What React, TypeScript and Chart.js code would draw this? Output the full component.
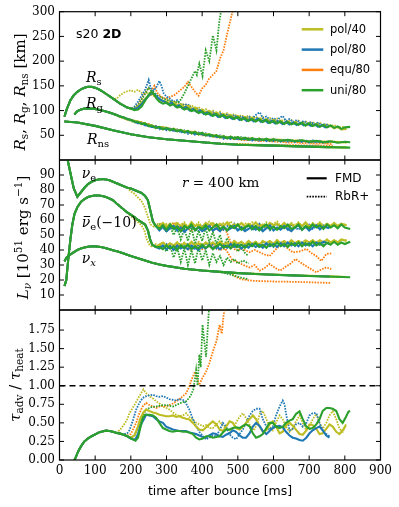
import React, { useEffect, useRef } from 'react';
import { Chart, registerables } from 'chart.js';
Chart.register(...registerables);

// ---------------- colours / legend ----------------
const OLIVE = '#bcbd22';
const BLUE = '#1f77b4';
const ORANGE = '#ff7f0e';
const GREEN = '#2ca02c';
const LEGEND_LABELS = ['pol/40', 'pol/80', 'equ/80', 'uni/80'];
const LEGEND_COLORS = [OLIVE, BLUE, ORANGE, GREEN];
const STYLE_LABELS = ['FMD', 'RbR+'];

// ---------------- axes ----------------
const X_TICKS = [0, 100, 200, 300, 400, 500, 600, 700, 800, 900];
const TOP_TICKS = [50, 100, 150, 200, 250, 300];
const MID_TICKS = [10, 20, 30, 40, 50, 60, 70, 80, 90];
const BOT_TICKS = [0, 0.25, 0.5, 0.75, 1.0, 1.25, 1.5, 1.75];
const DASH_LEVEL = 1.0;

// ---------------- top panel: R_s ----------------
const RS_EARLY = [14,88, 20,102, 30,120, 40,131, 50,138, 60,143, 70,146, 80,148, 90,148, 100,146, 110,143, 120,139, 130,134, 140,129, 150,124];
const RS_MID = [160,119, 170,114, 180,110, 190,106, 200,104];
const RS_UNI_FMD = [210,101, 220,102, 230,108, 240,120, 250,132, 258,138, 265,133, 272,124, 280,118, 290,114, 300,116, 310,110, 320,113, 330,106, 340,108, 350,102, 360,105, 370,99, 380,101, 390,95, 400,98, 410,92, 420,95, 430,89, 440,93, 450,87, 460,91, 470,85, 480,88, 490,83, 500,87, 510,81, 520,85, 530,79, 540,83, 550,78, 560,82, 570,77, 580,81, 590,75, 600,79, 610,74, 620,78, 630,73, 640,77, 650,72, 660,75, 670,71, 680,75, 690,70, 700,74, 710,69, 720,72, 730,67, 740,71, 750,66, 760,70, 770,65, 780,68, 790,63, 800,66, 815,67];
const RS_POL80_FMD = [210,103, 220,106, 230,113, 240,122, 250,130, 260,136, 268,132, 276,126, 285,121, 295,118, 305,113, 315,116, 325,108, 335,111, 345,104, 355,107, 365,100, 375,103, 385,97, 395,100, 405,93, 415,96, 425,90, 435,93, 445,87, 455,91, 465,85, 475,88, 485,83, 495,87, 505,81, 515,85, 525,79, 535,83, 545,78, 555,84, 565,77, 575,81, 585,75, 595,79, 605,74, 615,78, 625,73, 635,77, 645,72, 655,76, 665,71, 675,75, 685,70, 695,73, 705,69, 715,72, 725,67, 735,71, 745,66, 757,69];
const RS_POL40_FMD = [210,104, 220,108, 230,116, 240,124, 250,130, 260,134, 270,128, 280,122, 290,120, 300,118, 310,113, 320,117, 330,110, 340,113, 350,107, 360,110, 370,103, 380,106, 390,99, 400,102, 410,96, 420,99, 430,93, 440,96, 450,90, 460,93, 470,88, 480,91, 490,85, 500,89, 510,83, 520,87, 530,82, 540,86, 550,80, 560,84, 570,79, 580,82, 590,77, 600,81, 610,76, 620,79, 630,74, 640,78, 650,73, 660,77, 670,72, 680,75, 690,70, 700,74, 710,69, 720,73, 730,68, 740,71, 750,66, 760,70, 770,64, 780,67, 790,62, 805,63];
const RS_POL80_RBR = [210,108, 220,118, 230,130, 240,142, 250,162, 256,145, 264,140, 272,148, 280,160, 286,150, 292,135, 300,128, 310,124, 320,118, 330,121, 340,113, 350,111, 360,113, 370,104, 380,102, 390,104, 400,96, 410,99, 420,93, 430,97, 440,91, 450,95, 460,88, 470,92, 480,86, 490,91, 500,85, 510,89, 520,83, 530,88, 540,84, 555,94, 562,96, 570,85, 580,88, 590,81, 600,85, 610,80, 618,86, 626,89, 635,79, 645,83, 655,77, 665,81, 675,75, 685,79, 695,74, 705,77, 715,72, 725,76, 735,70, 745,73, 757,69];
const RS_POL40_RBR = [160,124, 170,131, 180,136, 190,139, 200,141, 210,138, 220,142, 230,136, 240,134, 250,137, 260,131, 270,127, 280,124, 290,120, 300,118, 310,121, 320,115, 330,118, 340,111, 350,114, 360,108, 370,111, 380,104, 390,107, 400,100, 410,103, 420,97, 430,100, 440,94, 450,98, 460,91, 470,95, 480,89, 490,93, 500,87, 510,91, 520,86, 530,90, 540,84, 550,88, 560,82, 570,87, 580,81, 590,85, 600,80, 610,84, 620,79, 630,82, 640,77, 650,81, 660,76, 670,80, 680,75, 690,78, 700,74, 710,77, 720,72, 730,76, 740,70, 750,73, 760,68, 770,71, 780,66, 795,67, 805,63];
const RS_EQU_RBR = [210,106, 220,112, 230,124, 240,136, 250,146, 258,140, 266,150, 274,136, 282,130, 290,126, 300,124, 310,128, 320,130, 330,136, 340,142, 350,148, 360,158, 370,148, 380,138, 390,130, 400,145, 410,152, 420,165, 430,172, 440,180, 450,205, 460,222, 470,255, 480,285, 490,315];
const RS_UNI_RBR = [210,105, 220,110, 230,122, 240,134, 250,146, 258,140, 266,136, 274,131, 282,128, 290,125, 300,122, 310,119, 320,117, 330,116, 340,122, 350,135, 360,150, 370,165, 380,180, 385,172, 392,195, 401,170, 410,222, 420,200, 430,252, 440,222, 448,280, 455,310];

// ---------------- top panel: R_g ----------------
const RG_EARLY = [42,92, 50,99, 60,102, 70,104, 80,104, 90,104, 100,103, 120,100, 140,96, 160,91];
const RG_MID = [170,88, 180,86, 190,83, 200,81];
const RG_UNI_FMD = [210,78, 220,77, 230,73, 240,74, 250,69, 260,69, 270,65, 280,67, 290,62, 300,65, 310,60, 320,63, 330,58, 340,61, 350,56, 360,59, 370,54, 380,57, 390,52, 400,55, 410,50, 420,52, 430,48, 440,50, 450,46, 460,48, 470,44, 480,47, 490,43, 500,46, 510,42, 520,45, 530,41, 540,44, 550,41, 560,43, 570,40, 580,43, 590,39, 600,42, 620,39, 640,41, 660,38, 680,40, 700,37, 720,39, 740,36, 760,38, 780,35, 800,37, 815,36];
const RG_POL80_FMD = [215,76, 230,74, 245,70, 260,67, 275,66, 290,63, 305,63, 320,60, 335,59, 350,56, 365,56, 380,53, 395,53, 410,50, 425,50, 440,47, 455,46, 470,44, 485,45, 500,43, 520,43, 540,41, 560,42, 580,40, 600,41, 620,39, 640,40, 660,38, 680,39, 700,37, 720,38, 740,36, 757,37];
const RG_POL40_FMD = [220,78, 240,73, 250,71, 260,69, 270,67, 280,66, 290,66, 300,65, 310,63, 320,62, 330,61, 340,60, 350,58, 360,57, 370,57, 380,56, 390,54, 400,53, 420,51, 440,49, 460,46, 480,45, 500,45, 520,44, 540,43, 560,42, 580,42, 600,41, 620,41, 640,40, 660,39, 680,39, 700,38, 720,38, 740,37, 760,37, 780,36, 805,36];
const RG_POL80_RBR = [210,79, 220,74, 230,77, 240,70, 250,73, 260,65, 270,69, 280,62, 290,67, 300,60, 310,65, 320,58, 330,62, 340,55, 350,60, 360,53, 370,58, 380,51, 390,56, 400,50, 410,54, 420,47, 430,51, 440,46, 450,50, 460,43, 470,48, 480,42, 490,47, 500,41, 510,46, 520,40, 530,45, 540,39, 550,44, 560,39, 570,43, 580,38, 590,43, 600,38, 610,42, 620,37, 630,42, 640,37, 650,41, 660,36, 670,41, 680,36, 690,40, 700,35, 710,40, 720,35, 730,39, 740,35, 757,38];
const RG_POL40_RBR = [170,86, 180,84, 190,81, 200,79, 210,76, 220,78, 230,72, 240,75, 250,68, 260,71, 270,64, 280,68, 290,62, 300,66, 310,60, 320,64, 330,57, 340,61, 350,55, 360,59, 370,53, 380,58, 390,51, 400,55, 410,49, 420,53, 430,46, 440,51, 450,45, 460,49, 470,43, 480,48, 490,42, 500,47, 510,41, 520,46, 530,40, 540,45, 550,39, 560,44, 570,39, 580,43, 590,38, 600,43, 610,37, 620,42, 630,37, 640,41, 650,36, 660,41, 670,36, 680,40, 690,35, 700,40, 710,35, 720,39, 730,35, 740,39, 750,34, 760,38, 780,37, 805,35];
const RG_EQU_RBR = [210,79, 220,76, 230,77, 240,72, 250,73, 260,68, 270,69, 280,65, 290,66, 300,62, 310,64, 320,60, 330,61, 340,57, 350,59, 360,55, 370,56, 380,53, 390,54, 400,50, 420,50, 440,46, 460,45, 480,43, 500,42, 520,40, 540,41, 560,38, 580,39, 600,37, 620,37, 640,35, 660,36, 680,34, 700,35, 720,33, 740,34, 766,32];
const RG_UNI_RBR = [210,78, 220,77, 230,73, 240,74, 250,69, 260,70, 270,66, 280,67, 290,63, 300,64, 310,61, 320,62, 330,58, 340,60, 350,56, 360,58, 370,54, 380,56, 390,52, 400,54, 410,50, 420,52, 430,49, 440,50, 450,47, 460,48, 480,45, 500,46, 530,44];

// ---------------- top panel: R_ns ----------------
const RNS_EARLY = [14,78, 50,76, 100,69, 150,60, 200,52, 250,46, 300,42, 350,39, 400,36];
const RNS_UNI_FMD = [450,33, 500,31, 550,30, 600,29, 650,28, 700,27, 750,26, 815,25];
const RNS_POL80_FMD = [450,33, 500,31, 550,30, 600,29, 650,28, 700,27, 757,26];
const RNS_POL40_FMD = [450,33, 500,31.5, 550,30, 600,29, 650,28, 700,27, 750,26, 805,25.5];
const RNS_POL80_RBR = [450,33.5, 500,31.5, 550,30, 600,29, 650,28, 700,27, 757,26];
const RNS_POL40_RBR = [450,33.5, 500,31.5, 550,30.5, 600,29, 650,28, 700,27, 750,26.5, 805,25.5];
const RNS_EQU_RBR = [450,33.5, 500,32, 550,31, 600,30.5, 650,30, 700,29.5, 766,29];
const RNS_UNI_RBR = [450,33, 500,31.5, 530,31];

// ---------------- middle panel: nu_e ----------------
const NUE_EARLY = [22,101, 30,92, 40,81, 50,75.5, 60,78.5, 70,81.5, 80,84, 90,85.5, 100,86.5, 110,87, 120,87.3, 130,87, 140,86.5, 150,85.5, 160,84.5, 170,83.5, 180,82.5, 190,81.5];
const NUE_MID = [200,81, 210,80, 220,79, 230,78, 240,76, 248,73, 255,66, 262,59, 270,56];
const NUE_UNI_FMD = [280,54, 290,56.5, 300,53.5, 310,57, 320,54, 330,55.5, 340,52.5, 350,56, 360,54.5, 370,57, 380,53, 390,55.5, 400,54, 410,56.5, 420,53, 430,55, 440,57, 450,54, 460,55.5, 470,53, 480,56, 490,54.5, 500,57, 510,53.5, 520,55, 530,56.5, 540,54, 550,56, 560,53, 570,55.5, 580,57, 590,54, 600,55.5, 610,53.5, 620,56, 630,54.5, 640,57, 650,54, 660,55, 670,57, 680,53.5, 690,56, 700,54.5, 710,57, 720,55, 730,56.5, 740,54, 750,57, 760,55, 770,56.5, 780,54.5, 790,57, 800,55, 815,54];
const NUE_POL80_FMD = [280,53, 290,55.5, 300,52.5, 310,54.5, 320,56, 330,53, 340,55, 350,52, 360,54.5, 370,56, 380,53.5, 390,55, 400,52.5, 410,54, 420,56, 430,53, 440,54.5, 450,52.5, 460,55.5, 470,53, 480,54.5, 490,56, 500,53, 510,55, 520,52.5, 530,54, 540,56, 550,53.5, 560,55, 570,52.5, 580,54.5, 590,56.5, 600,53, 610,55, 620,53.5, 630,56, 640,54, 650,52.5, 660,55, 670,56.5, 680,53.5, 690,55.5, 700,53, 710,55, 720,56.5, 730,54, 740,55.5, 757,54.5];
const NUE_POL40_FMD = [280,56, 290,58, 300,55.5, 310,57.5, 320,55, 330,58, 340,56, 350,57.5, 360,55, 370,58.5, 380,56, 390,57, 400,55, 410,58, 420,56.5, 430,58, 440,55.5, 450,57.5, 460,56, 470,58.5, 480,55.5, 490,57, 500,56, 510,58, 520,55.5, 530,57.5, 540,56, 550,58.5, 560,55.5, 570,57, 580,55, 590,58, 600,56.5, 610,57.5, 620,55.5, 630,58, 640,56, 650,57.5, 660,55, 670,58, 680,56, 690,58.5, 700,55.5, 710,57.5, 720,56, 730,58, 740,55.5, 750,57.5, 760,56, 770,58, 780,55.5, 790,57.5, 805,56.5];
const NUE_POL80_RBR = [280,55, 290,57.5, 300,53, 310,56, 320,54, 330,57, 340,52.5, 350,55.5, 360,53.5, 370,57.5, 380,54, 390,52.5, 400,56, 410,54.5, 420,57, 430,53, 440,55, 450,57.5, 460,53.5, 470,56, 480,54, 490,57.5, 500,53, 510,55.5, 520,54, 530,57, 540,53, 550,55, 560,57.5, 570,54, 580,56, 590,53, 600,55.5, 610,57.5, 620,54, 630,56, 640,53.5, 650,57, 660,55, 670,53.5, 680,56.5, 690,54.5, 700,57, 710,54, 720,56, 730,53.5, 740,56.5, 757,55];
const NUE_POL40_RBR = [200,79, 210,77.5, 220,75, 230,72.5, 240,68, 248,62, 255,57, 265,55.5, 270,56.5, 280,58, 290,55.5, 300,57.5, 310,56, 320,58.5, 330,55, 340,57, 350,58.5, 360,55.5, 370,57.5, 380,56, 390,58.5, 400,55.5, 410,57, 420,59, 430,56, 440,57.5, 450,55.5, 460,58, 470,56.5, 480,59, 490,56, 500,57.5, 510,55.5, 520,58, 530,56.5, 540,58.5, 550,55.5, 560,57.5, 570,56, 580,58.5, 590,56, 600,57.5, 610,59, 620,56, 630,57.5, 640,55.5, 650,58, 660,56.5, 670,58.5, 680,56, 690,57.5, 700,55.5, 710,58, 720,56.5, 730,58.5, 740,56, 750,57.5, 760,55.5, 770,58, 780,56.5, 790,57.5, 805,56.5];
const NUE_EQU_RBR = [280,56, 290,57, 300,54.5, 310,55, 320,57.5, 330,58, 340,55, 350,56, 360,54, 370,53, 380,56, 390,55.5, 400,53, 410,54, 420,57, 430,56, 440,54, 450,53, 465,54, 475,48, 485,42, 495,39.5, 510,41, 533,38.5, 547,40, 561,38.5, 575,37, 589,36, 605,40, 626,45, 640,41, 654,38.4, 672,39, 692,40.7, 706,38, 720,36, 734,32.7, 748,37.3, 762,37.8];
const NUE_UNI_RBR = [280,57, 290,55, 300,52, 310,56, 320,50, 330,55, 340,47, 350,54, 360,46, 370,55, 380,44, 390,53, 400,46, 410,55, 420,45, 430,52, 440,44, 450,50, 460,42, 470,48, 480,41, 490,45, 500,39, 510,42, 520,38, 530,36];

// ---------------- middle panel: anti-nu_e (-10) ----------------
const NUEB_EARLY = [14,16, 19,20, 25,35, 31,48, 36,57, 42,64, 50,68.5, 60,72, 70,74, 80,75.3, 90,76, 100,76.3, 110,76.3, 120,76, 130,75.3, 140,74.3, 150,73.2, 160,71, 170,69, 180,67, 190,65];
const NUEB_MID = [200,63.5, 210,62, 220,60, 230,58.5, 240,57, 248,53, 254,47, 260,43.5, 270,42];
const NUEB_UNI_FMD = [280,42, 290,40.5, 300,43, 310,41, 320,42.5, 330,40, 340,43, 350,41.5, 360,43.5, 370,40.5, 380,42.5, 390,41, 400,43.5, 410,41.5, 420,43, 430,40.5, 440,42.5, 450,44, 460,41.5, 470,43, 480,41, 490,44, 500,42, 510,43.5, 520,41.5, 530,44, 540,42.5, 550,44.5, 560,42, 570,43.5, 580,41.5, 590,44, 600,42.5, 610,45, 620,42.5, 630,44, 640,42, 650,44.5, 660,43, 670,45, 680,42.5, 690,44.5, 700,43, 710,45.5, 720,43, 730,44.5, 740,42.5, 750,45, 760,43.5, 770,45.5, 780,43.5, 790,45, 800,44, 815,45.5];
const NUEB_POL80_FMD = [280,41, 290,43, 300,40.5, 310,42.5, 320,40, 330,43, 340,41, 350,42.5, 360,40.5, 370,43, 380,41.5, 390,40, 400,42.5, 410,41, 420,43.5, 430,41, 440,42.5, 450,40.5, 460,43, 470,41.5, 480,44, 490,42, 500,43.5, 510,41, 520,43, 530,41.5, 540,44, 550,42, 560,43.5, 570,41.5, 580,44.5, 590,42.5, 600,44, 610,42, 620,44.5, 630,42.5, 640,45, 650,43, 660,44.5, 670,42.5, 680,45, 690,43, 700,44.5, 710,42.5, 720,45, 730,43.5, 740,45.5, 757,44];
const NUEB_POL40_FMD = [280,43.5, 290,45, 300,42.5, 310,44.5, 320,43, 330,45, 340,42.5, 350,44.5, 360,43, 370,45.5, 380,43, 390,44.5, 400,42.5, 410,45, 420,43.5, 430,45, 440,43, 450,45.5, 460,43.5, 470,45, 480,43, 490,46, 500,44, 510,45.5, 520,43.5, 530,46, 540,44, 550,45.5, 560,43.5, 570,46, 580,44.5, 590,46, 600,44, 610,46.5, 620,44.5, 630,46, 640,44, 650,46.5, 660,44.5, 670,46, 680,44, 690,46.5, 700,45, 710,46.5, 720,44.5, 730,46.5, 740,45, 750,47, 760,45, 770,46.5, 780,45, 790,47, 805,46];
const NUEB_POL80_RBR = [280,43.5, 290,41, 300,44, 310,41.5, 320,43, 330,40.5, 340,43.5, 350,41, 360,44, 370,42, 380,40.5, 390,43.5, 400,41.5, 410,44, 420,42, 430,43.5, 440,41, 450,44.5, 460,42, 470,43.5, 480,41.5, 490,44.5, 500,42.5, 510,44, 520,41.5, 530,45, 540,42.5, 550,44.5, 560,42, 570,45, 580,43, 590,44.5, 600,42, 610,45, 620,43, 630,45.5, 640,43, 650,45, 660,42.5, 670,45.5, 680,43.5, 690,45, 700,43, 710,46, 720,43.5, 730,45.5, 740,43.5, 757,45];
const NUEB_POL40_RBR = [200,62.5, 210,60.5, 220,58.5, 230,56.5, 238,53, 245,47, 252,43.5, 260,42, 270,44, 280,42.5, 290,45, 300,43, 310,44.5, 320,42.5, 330,45, 340,43.5, 350,45, 360,42.5, 370,44.5, 380,43, 390,45.5, 400,43.5, 410,45, 420,42.5, 430,45, 440,43.5, 450,45.5, 460,43, 470,45, 480,43.5, 490,46, 500,44, 510,45.5, 520,43.5, 530,46, 540,44, 550,45.5, 560,43.5, 570,46, 580,44.5, 590,46, 600,44, 610,46.5, 620,44.5, 630,46, 640,44, 650,46.5, 660,44.5, 670,46, 680,45, 690,46.5, 700,44.5, 710,46.5, 720,45, 730,46.5, 740,45, 750,47, 760,45, 770,46.5, 780,45, 790,47, 805,46.5];
const NUEB_EQU_RBR = [280,43, 290,41.5, 300,43.5, 310,41, 320,42.5, 330,44, 340,41.5, 350,42, 360,40.5, 370,40, 380,42.5, 390,43, 400,40.5, 410,41, 420,43.5, 430,43, 440,41, 450,40, 465,41, 475,37, 485,33, 500,32, 515,30, 533,28.4, 547,30, 561,26.2, 575,28, 589,30.7, 605,28, 619,26.2, 635,29, 648,31, 662,34, 680,31, 700,28, 720,25.1, 734,27, 748,28.4, 762,27.3];
const NUEB_UNI_RBR = [280,43, 290,42, 300,39, 310,43, 320,35, 330,42, 340,32, 350,41, 360,30, 370,40, 380,31, 390,42, 400,33, 410,40, 420,30, 430,38, 440,32, 450,36, 460,30, 470,35, 480,32, 490,34, 500,31, 515,33, 530,31];

// ---------------- middle panel: nu_x ----------------
const NUX_EARLY = [14,32.5, 20,35, 30,37, 40,38.5, 50,40, 60,41, 70,41.7, 80,42.2, 90,42.4, 100,42.4, 110,42.2, 120,41.8, 130,41.2, 140,40.5, 150,39.8, 160,39.2, 170,38.5, 180,37.7, 190,36.8, 200,36, 220,34.5, 240,33, 260,31.5, 280,30.3, 300,29.4, 350,27.5, 400,26.3, 450,25.4];
const NUX_UNI_FMD = [500,24.6, 550,24, 600,23.5, 650,23.1, 700,22.7, 750,22.3, 815,21.8];
const NUX_POL80_FMD = [500,24.6, 550,24, 600,23.5, 650,23.1, 700,22.7, 757,22.3];
const NUX_POL40_FMD = [500,24.7, 550,24.1, 600,23.6, 650,23.2, 700,22.8, 750,22.4, 805,22];
const NUX_POL80_RBR = [500,24.6, 550,24, 600,23.5, 650,23.1, 700,22.7, 757,22.3];
const NUX_POL40_RBR = [500,24.7, 550,24.1, 600,23.6, 650,23.2, 700,22.8, 750,22.4, 805,22];
const NUX_EQU_RBR = [480,24.8, 495,22, 510,20.5, 540,19.5, 600,19, 650,18.8, 700,18.5, 762,18];
const NUX_UNI_RBR = [480,23.5, 510,21.5, 530,20.5];

// ---------------- bottom panel: tau_adv / tau_heat ----------------
const TAU_EARLY = [42,0, 46,0.04, 50,0.09, 55,0.14, 60,0.18, 65,0.22, 70,0.25, 80,0.29, 90,0.32, 100,0.345, 110,0.37, 120,0.385, 130,0.395, 140,0.39, 150,0.38, 160,0.365];
const TAU_UNI_FMD = [170,0.355, 180,0.34, 190,0.32, 200,0.29, 205,0.277, 213,0.26, 220,0.3, 226,0.42, 233,0.56, 240,0.61, 252,0.61, 262,0.6, 271,0.57, 280,0.5, 290,0.43, 299,0.41, 308,0.39, 318,0.38, 327,0.39, 336,0.39, 346,0.38, 355,0.38, 364,0.37, 374,0.35, 383,0.3, 392,0.277, 402,0.29, 411,0.32, 421,0.32, 430,0.3, 440,0.31, 449,0.32, 458,0.37, 467,0.41, 477,0.41, 486,0.43, 495,0.44, 505,0.43, 514,0.46, 523,0.48, 533,0.455, 542,0.36, 551,0.3, 561,0.32, 570,0.35, 580,0.43, 589,0.5, 598,0.5, 607,0.45, 617,0.43, 626,0.45, 635,0.5, 645,0.53, 654,0.55, 663,0.62, 673,0.656, 682,0.55, 692,0.45, 701,0.42, 710,0.43, 720,0.48, 729,0.55, 738,0.66, 748,0.7, 757,0.7, 766,0.69, 776,0.66, 785,0.55, 794,0.5, 803,0.58, 810,0.65, 815,0.66];
const TAU_POL80_FMD = [170,0.355, 180,0.34, 190,0.32, 200,0.29, 205,0.28, 213,0.28, 220,0.35, 226,0.45, 233,0.52, 243,0.61, 252,0.6, 262,0.59, 271,0.55, 280,0.52, 290,0.5, 299,0.45, 308,0.43, 318,0.41, 327,0.4, 336,0.39, 346,0.39, 355,0.39, 364,0.37, 374,0.36, 383,0.35, 392,0.33, 402,0.31, 411,0.3, 420,0.33, 430,0.36, 439,0.35, 449,0.32, 458,0.31, 467,0.34, 477,0.36, 486,0.4, 495,0.38, 505,0.33, 514,0.3, 523,0.3, 533,0.36, 542,0.45, 551,0.5, 561,0.46, 570,0.39, 580,0.35, 589,0.39, 598,0.43, 607,0.45, 617,0.46, 626,0.44, 635,0.38, 645,0.33, 654,0.3, 663,0.29, 673,0.27, 682,0.26, 692,0.3, 701,0.36, 710,0.4, 720,0.43, 729,0.45, 738,0.4, 748,0.33, 757,0.3];
const TAU_POL40_FMD = [170,0.355, 180,0.34, 190,0.32, 200,0.3, 210,0.33, 220,0.45, 226,0.55, 235,0.64, 243,0.68, 252,0.66, 262,0.64, 271,0.63, 280,0.61, 290,0.6, 299,0.59, 308,0.59, 318,0.6, 327,0.58, 336,0.59, 346,0.57, 355,0.555, 364,0.545, 374,0.5, 383,0.45, 392,0.41, 402,0.4, 411,0.44, 420,0.48, 430,0.52, 440,0.48, 449,0.41, 458,0.39, 467,0.45, 477,0.52, 486,0.5, 495,0.43, 505,0.41, 514,0.45, 523,0.5, 533,0.55, 542,0.6, 551,0.55, 561,0.45, 570,0.38, 580,0.4, 589,0.48, 598,0.52, 607,0.45, 617,0.36, 626,0.38, 635,0.47, 645,0.5, 654,0.46, 663,0.41, 673,0.35, 682,0.34, 692,0.4, 701,0.48, 710,0.47, 720,0.42, 729,0.35, 738,0.36, 748,0.42, 757,0.48, 766,0.45, 776,0.38, 785,0.35, 794,0.4, 803,0.47];
const TAU_POL80_RBR = [170,0.355, 180,0.345, 190,0.36, 196,0.4, 205,0.52, 215,0.68, 224,0.77, 233,0.835, 243,0.86, 252,0.87, 262,0.88, 271,0.86, 280,0.85, 290,0.86, 300,0.84, 308,0.82, 318,0.81, 327,0.8, 336,0.82, 346,0.81, 355,0.76, 364,0.68, 374,0.55, 383,0.455, 392,0.38, 402,0.32, 411,0.277, 420,0.3, 430,0.33, 439,0.32, 449,0.4, 458,0.5, 467,0.45, 476,0.35, 486,0.3, 495,0.28, 505,0.35, 514,0.41, 523,0.5, 533,0.6, 542,0.66, 551,0.69, 561,0.69, 570,0.55, 580,0.45, 589,0.41, 598,0.45, 607,0.6, 617,0.72, 626,0.8, 631,0.75, 636,0.6, 645,0.4, 654,0.42, 663,0.48, 673,0.5, 682,0.45, 692,0.5, 701,0.6, 710,0.63, 720,0.63, 729,0.5, 738,0.4, 748,0.35, 757,0.32];
const TAU_POL40_RBR = [170,0.41, 180,0.47, 190,0.55, 196,0.63, 205,0.7, 215,0.78, 224,0.86, 235,0.95, 243,0.9, 252,0.86, 262,0.83, 271,0.79, 280,0.76, 290,0.72, 300,0.7, 308,0.68, 318,0.64, 327,0.61, 336,0.59, 346,0.6, 355,0.63, 364,0.58, 374,0.545, 383,0.5, 392,0.48, 402,0.455, 411,0.47, 420,0.43, 430,0.43, 440,0.48, 449,0.52, 460,0.45, 470,0.42, 480,0.39, 490,0.45, 500,0.55, 514,0.63, 525,0.55, 535,0.455, 545,0.4, 555,0.5, 561,0.62, 570,0.66, 580,0.55, 589,0.45, 598,0.4, 607,0.5, 617,0.6, 626,0.55, 635,0.45, 645,0.38, 654,0.42, 663,0.52, 673,0.6, 682,0.5, 692,0.4, 701,0.45, 710,0.55, 720,0.62, 729,0.5, 738,0.42, 748,0.5, 757,0.6, 766,0.66, 776,0.55, 785,0.42, 794,0.38, 803,0.48];
const TAU_EQU_RBR = [170,0.36, 180,0.34, 190,0.33, 200,0.35, 205,0.4, 215,0.5, 224,0.63, 233,0.72, 243,0.77, 252,0.74, 262,0.72, 271,0.7, 280,0.72, 290,0.73, 299,0.72, 308,0.74, 318,0.76, 327,0.79, 336,0.82, 346,0.86, 355,0.9, 364,0.99, 370,1.08, 374,1.12, 380,1.19, 386,1.1, 392,1.01, 400,1.1, 411,1.19, 420,1.3, 430,1.46, 440,1.6, 449,1.82, 455,1.7, 460,1.95, 466,2.1];
const TAU_UNI_RBR = [170,0.36, 180,0.34, 190,0.32, 200,0.3, 210,0.33, 224,0.48, 233,0.6, 243,0.68, 252,0.7, 262,0.72, 271,0.72, 280,0.73, 290,0.74, 299,0.74, 308,0.73, 318,0.72, 327,0.74, 336,0.76, 346,0.78, 355,0.79, 364,0.84, 369,0.88, 375,0.95, 380,1.1, 383,1.21, 387,1.0, 392,1.42, 396,1.25, 401,1.82, 406,1.6, 411,1.39, 416,1.8, 420,2.1];

// ---------------- series (drawing order: first = on top) ----------------
const SERIES = [
  { id: 'uniF', color: GREEN, dotted: false },
  { id: 'pol80F', color: BLUE, dotted: false },
  { id: 'pol40F', color: OLIVE, dotted: false },
  { id: 'uniR', color: GREEN, dotted: true },
  { id: 'pol80R', color: BLUE, dotted: true },
  { id: 'equR', color: ORANGE, dotted: true },
  { id: 'pol40R', color: OLIVE, dotted: true },
];

const PANEL_TOP = [
  { uniF: [RS_EARLY, RS_MID, RS_UNI_FMD], pol80F: [RS_EARLY, RS_MID, RS_POL80_FMD], pol40F: [RS_EARLY, RS_MID, RS_POL40_FMD], uniR: [RS_EARLY, RS_MID, RS_UNI_RBR], pol80R: [RS_EARLY, RS_MID, RS_POL80_RBR], equR: [RS_EARLY, RS_MID, RS_EQU_RBR], pol40R: [RS_EARLY, RS_POL40_RBR] },
  { uniF: [RG_EARLY, RG_MID, RG_UNI_FMD], pol80F: [RG_EARLY, RG_MID, RG_POL80_FMD], pol40F: [RG_EARLY, RG_MID, RG_POL40_FMD], uniR: [RG_EARLY, RG_MID, RG_UNI_RBR], pol80R: [RG_EARLY, RG_MID, RG_POL80_RBR], equR: [RG_EARLY, RG_MID, RG_EQU_RBR], pol40R: [RG_EARLY, RG_POL40_RBR] },
  { uniF: [RNS_EARLY, RNS_UNI_FMD], pol80F: [RNS_EARLY, RNS_POL80_FMD], pol40F: [RNS_EARLY, RNS_POL40_FMD], uniR: [RNS_EARLY, RNS_UNI_RBR], pol80R: [RNS_EARLY, RNS_POL80_RBR], equR: [RNS_EARLY, RNS_EQU_RBR], pol40R: [RNS_EARLY, RNS_POL40_RBR] },
];
const PANEL_MID = [
  { uniF: [NUE_EARLY, NUE_MID, NUE_UNI_FMD], pol80F: [NUE_EARLY, NUE_MID, NUE_POL80_FMD], pol40F: [NUE_EARLY, NUE_MID, NUE_POL40_FMD], uniR: [NUE_EARLY, NUE_MID, NUE_UNI_RBR], pol80R: [NUE_EARLY, NUE_MID, NUE_POL80_RBR], equR: [NUE_EARLY, NUE_MID, NUE_EQU_RBR], pol40R: [NUE_EARLY, NUE_POL40_RBR] },
  { uniF: [NUEB_EARLY, NUEB_MID, NUEB_UNI_FMD], pol80F: [NUEB_EARLY, NUEB_MID, NUEB_POL80_FMD], pol40F: [NUEB_EARLY, NUEB_MID, NUEB_POL40_FMD], uniR: [NUEB_EARLY, NUEB_MID, NUEB_UNI_RBR], pol80R: [NUEB_EARLY, NUEB_MID, NUEB_POL80_RBR], equR: [NUEB_EARLY, NUEB_MID, NUEB_EQU_RBR], pol40R: [NUEB_EARLY, NUEB_POL40_RBR] },
  { uniF: [NUX_EARLY, NUX_UNI_FMD], pol80F: [NUX_EARLY, NUX_POL80_FMD], pol40F: [NUX_EARLY, NUX_POL40_FMD], uniR: [NUX_EARLY, NUX_UNI_RBR], pol80R: [NUX_EARLY, NUX_POL80_RBR], equR: [NUX_EARLY, NUX_EQU_RBR], pol40R: [NUX_EARLY, NUX_POL40_RBR] },
];
const PANEL_BOT = [
  { uniF: [TAU_EARLY, TAU_UNI_FMD], pol80F: [TAU_EARLY, TAU_POL80_FMD], pol40F: [TAU_EARLY, TAU_POL40_FMD], uniR: [TAU_EARLY, TAU_UNI_RBR], pol80R: [TAU_EARLY, TAU_POL80_RBR], equR: [TAU_EARLY, TAU_EQU_RBR], pol40R: [TAU_EARLY, TAU_POL40_RBR] },
];

// ---------------- helpers ----------------
function pts(parts: number[][]) {
  const out: { x: number; y: number }[] = [];
  for (const a of parts) for (let i = 0; i < a.length; i += 2) out.push({ x: a[i], y: a[i + 1] });
  return out;
}

function buildDatasets(panel: any[]) {
  const ds: any[] = [];
  for (const s of SERIES) {
    for (const q of panel) {
      ds.push({
        data: pts(q[s.id]),
        borderColor: s.color,
        borderWidth: s.dotted ? 1.8 : 2.1,
        borderDash: s.dotted ? [1.6, 1.2] : [],
        pointRadius: 0,
        tension: 0,
        fill: false,
      });
    }
  }
  return ds;
}

const SERIF = '"DejaVu Serif", serif';
const SANS = '"DejaVu Sans", sans-serif';
const TICK_FONT = { family: SERIF, size: 12 };

type Part = { t: string; f: string; dy?: number; bar?: boolean };
const I = (t: string, s = 15): Part => ({ t, f: `italic ${s}px ${SERIF}` });
const Rm = (t: string, s = 15): Part => ({ t, f: `${s}px ${SERIF}` });
const Sub = (t: string, s = 10.5, italic = false): Part => ({ t, f: `${italic ? 'italic ' : ''}${s}px ${SERIF}`, dy: s * 0.3 });
const Sup = (t: string, s = 10.5): Part => ({ t, f: `${s}px ${SERIF}`, dy: -s * 0.6 });

function drawRich(ctx: CanvasRenderingContext2D, parts: Part[], x: number, y: number, rotate: boolean, align: 'left' | 'center') {
  ctx.save();
  ctx.translate(x, y);
  if (rotate) ctx.rotate(-Math.PI / 2);
  ctx.textAlign = 'left';
  ctx.textBaseline = 'alphabetic';
  ctx.fillStyle = '#000';
  const widths = parts.map((p) => { ctx.font = p.f; return ctx.measureText(p.t).width; });
  const total = widths.reduce((a, b) => a + b, 0);
  let cx = align === 'center' ? -total / 2 : 0;
  parts.forEach((p, i) => {
    ctx.font = p.f;
    ctx.fillText(p.t, cx, p.dy || 0);
    if (p.bar) ctx.fillRect(cx + 2, -11, widths[i] - 2, 1);
    cx += widths[i];
  });
  ctx.restore();
}

function line(ctx: CanvasRenderingContext2D, x1: number, y1: number, x2: number, y2: number) {
  ctx.beginPath(); ctx.moveTo(x1, y1); ctx.lineTo(x2, y2); ctx.stroke();
}

function framePlugin(yTicks: number[], extra: (ctx: CanvasRenderingContext2D, chart: any) => void) {
  return {
    id: 'frame',
    afterDraw(chart: any) {
      const { ctx, chartArea } = chart;
      const { left, right, top, bottom } = chartArea;
      const xs = chart.scales.x, ys = chart.scales.y;
      ctx.save();
      ctx.strokeStyle = '#000';
      ctx.lineWidth = 1.2;
      ctx.setLineDash([]);
      ctx.strokeRect(left, top, right - left, bottom - top);
      ctx.lineWidth = 1;
      for (const v of X_TICKS) {
        const px = xs.getPixelForValue(v);
        line(ctx, px, top, px, top + 4.5);
        line(ctx, px, bottom, px, bottom - 4.5);
      }
      for (const v of yTicks) {
        const py = ys.getPixelForValue(v);
        line(ctx, left, py, left + 4.5, py);
        line(ctx, right, py, right - 4.5, py);
      }
      extra(ctx, chart);
      ctx.restore();
    },
  };
}

function yAxis(min: number, max: number, ticks: number[], fmt: (v: number) => string) {
  return {
    type: 'linear', min, max, position: 'left',
    grid: { display: false, drawTicks: false },
    border: { display: false },
    ticks: { font: TICK_FONT, color: '#000', padding: 4.5, autoSkip: false, callback: (v: any) => fmt(Number(v)) },
    afterBuildTicks: (s: any) => { s.ticks = ticks.map((v) => ({ value: v })); },
    afterFit: (s: any) => { s.width = 59.5; s.paddingTop = 0; s.paddingBottom = 0; },
  };
}

function makeConfig(datasets: any[], y: any, xVisible: boolean, padding: any, plugin: any) {
  const x: any = xVisible
    ? {
        type: 'linear', min: 0, max: 900, position: 'bottom',
        grid: { display: false, drawTicks: false }, border: { display: false },
        ticks: { font: TICK_FONT, color: '#000', padding: 4, maxRotation: 0, autoSkip: false },
        afterBuildTicks: (s: any) => { s.ticks = X_TICKS.map((v) => ({ value: v })); },
        afterFit: (s: any) => { s.height = 47; s.paddingLeft = 0; s.paddingRight = 0; },
      }
    : { type: 'linear', min: 0, max: 900, display: false };
  return {
    type: 'line',
    data: { datasets },
    options: {
      responsive: false,
      animation: false,
      devicePixelRatio: 1,
      layout: { padding, autoPadding: false },
      plugins: { legend: { display: false }, tooltip: { enabled: false } },
      scales: { x, y },
      elements: { line: { borderCapStyle: 'butt' } },
    },
    plugins: [plugin],
  };
}

export default function App() {
  const c1 = useRef<HTMLCanvasElement>(null);
  const c2 = useRef<HTMLCanvasElement>(null);
  const c3 = useRef<HTMLCanvasElement>(null);

  useEffect(() => {
    const charts: Chart[] = [];
    const PAD_R = 18.5;

    // ---- top panel ----
    const p1 = framePlugin(TOP_TICKS, (ctx) => {
      drawRich(ctx, [I('R'), Sub('s'), Rm(', '), I('R'), Sub('g'), Rm(', '), I('R'), Sub('ns'), Rm(' [km]')], 25, 92, true, 'center');
      ctx.fillStyle = '#000';
      ctx.textBaseline = 'alphabetic';
      ctx.font = `12.5px ${SANS}`;
      ctx.fillText('s20 ', 76, 37.5);
      const w = ctx.measureText('s20 ').width;
      ctx.font = `bold 12.5px ${SANS}`;
      ctx.fillText('2D', 76 + w, 37.5);
      LEGEND_LABELS.forEach((lab, i) => {
        const yy = 29.3 + i * 20.3;
        ctx.strokeStyle = LEGEND_COLORS[i];
        ctx.lineWidth = 2.5;
        line(ctx, 301.7, yy, 323.3, yy);
        ctx.fillStyle = '#000';
        ctx.font = `11.5px ${SANS}`;
        ctx.textBaseline = 'middle';
        ctx.fillText(lab, 330, yy + 0.5);
      });
      drawRich(ctx, [I('R', 14), Sub('s', 10)], 86, 82, false, 'left');
      drawRich(ctx, [I('R', 14), Sub('g', 10)], 86, 107.5, false, 'left');
      drawRich(ctx, [I('R', 14), Sub('ns', 10)], 87, 144, false, 'left');
    });
    charts.push(new Chart(c1.current!, makeConfig(buildDatasets(PANEL_TOP), yAxis(0, 300, TOP_TICKS, (v) => String(v)), false, { left: 0, right: PAD_R, top: 11.7, bottom: 1 }, p1) as any));

    // ---- middle panel ----
    const off2 = 159;
    const p2 = framePlugin(MID_TICKS, (ctx) => {
      drawRich(ctx, [I('L'), Sub('ν', 10.5, true), Rm(' [10'), Sup('51'), Rm(' erg s'), Sup('−1'), Rm(']')], 28, 237.5 - off2, true, 'center');
      drawRich(ctx, [I('ν', 14), Sub('e', 10)], 81.7, 178 - off2, false, 'left');
      drawRich(ctx, [{ ...I('ν', 14), bar: true }, Sub('e', 10), Rm('(−10)', 14)], 81.7, 227 - off2, false, 'left');
      drawRich(ctx, [I('ν', 14), Sub('x', 10, true)], 81.7, 263 - off2, false, 'left');
      drawRich(ctx, [I('r', 13.5), Rm(' = 400 km', 13.5)], 182, 187 - off2, false, 'left');
      ctx.strokeStyle = '#000';
      ctx.lineWidth = 2.2;
      line(ctx, 306.7, 178.3 - off2, 326.7, 178.3 - off2);
      ctx.lineWidth = 1.7;
      ctx.setLineDash([1.6, 1.2]);
      line(ctx, 306.7, 196.7 - off2, 326.7, 196.7 - off2);
      ctx.setLineDash([]);
      ctx.fillStyle = '#000';
      ctx.font = `12px ${SANS}`;
      ctx.textBaseline = 'middle';
      ctx.fillText(STYLE_LABELS[0], 335, 178.8 - off2);
      ctx.fillText(STYLE_LABELS[1], 335, 197.2 - off2);
    });
    charts.push(new Chart(c2.current!, makeConfig(buildDatasets(PANEL_MID), yAxis(0, 100, MID_TICKS, (v) => String(v)), false, { left: 0, right: PAD_R, top: 1, bottom: 1 }, p2) as any));

    // ---- bottom panel ----
    const off3 = 309;
    const p3 = framePlugin(BOT_TICKS, (ctx) => {
      drawRich(ctx, [I('τ'), Sub('adv'), Rm(' / '), I('τ'), Sub('heat')], 20, 385 - off3, true, 'center');
      ctx.fillStyle = '#000';
      ctx.font = `12.5px ${SANS}`;
      ctx.textAlign = 'center';
      ctx.textBaseline = 'middle';
      ctx.fillText('time after bounce [ms]', 220, 491.5 - off3);
      ctx.textAlign = 'left';
    });
    const dsBot = [
      { data: [{ x: 0, y: DASH_LEVEL }, { x: 900, y: DASH_LEVEL }], borderColor: '#000', borderWidth: 1.3, borderDash: [6, 4], pointRadius: 0 },
      ...buildDatasets(PANEL_BOT),
    ];
    charts.push(new Chart(c3.current!, makeConfig(dsBot, yAxis(0, 2.02, BOT_TICKS, (v) => v.toFixed(2)), true, { left: 0, right: PAD_R, top: 1, bottom: 0 }, p3) as any));

    return () => charts.forEach((c) => c.destroy());
  }, []);

  const base: React.CSSProperties = { position: 'absolute', left: 0 };
  return (
    <div style={{ position: 'fixed', left: 0, top: 0, width: 399, height: 507, background: '#fff', overflow: 'hidden' }}>
      <canvas ref={c1} width={399} height={161} style={{ ...base, top: 0, width: 399, height: 161 }} />
      <canvas ref={c2} width={399} height={152} style={{ ...base, top: 159, width: 399, height: 152 }} />
      <canvas ref={c3} width={399} height={198} style={{ ...base, top: 309, width: 399, height: 198 }} />
    </div>
  );
}
